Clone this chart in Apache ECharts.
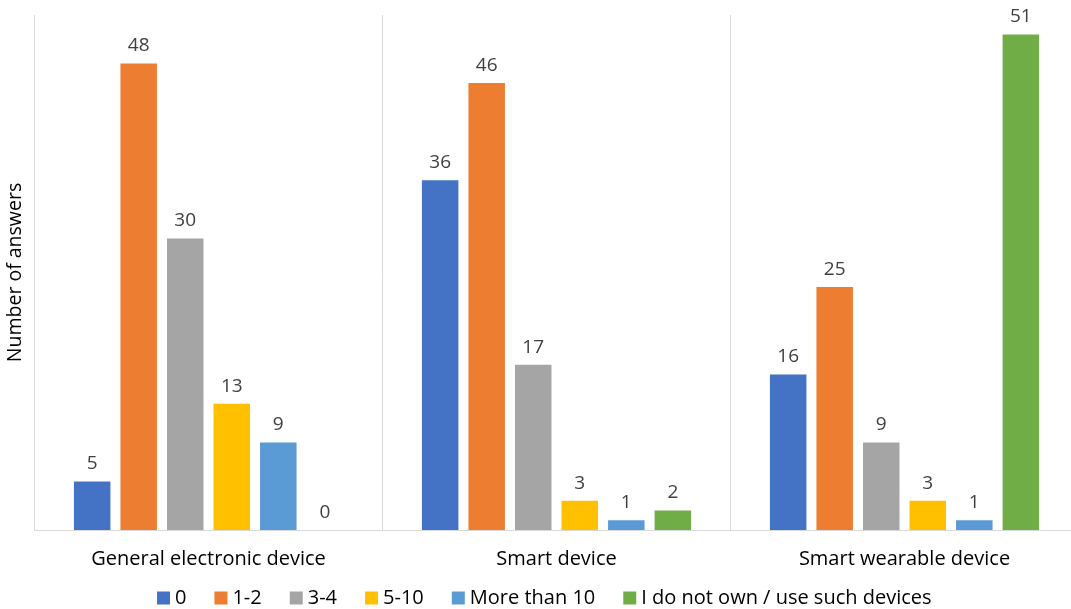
<!DOCTYPE html>
<html>
<head>
<meta charset="utf-8">
<script src="https://cdn.jsdelivr.net/npm/echarts@6/dist/echarts.min.js"></script>
<style>
  html, body { margin: 0; padding: 0; background: #fff; }
  #chart { width: 1071px; height: 609px; }
</style>
</head>
<body>
<div id="chart"></div>
<script>
// Device categories along the x axis
const categories = ['General electronic device', 'Smart device', 'Smart wearable device'];

// Number of devices owned / used (one series per answer option)
const seriesNames = ['0', '1-2', '3-4', '5-10', 'More than 10', 'I do not own / use such devices'];
const answers0 = [5, 36, 16];
const answers1to2 = [48, 46, 25];
const answers3to4 = [30, 17, 9];
const answers5to10 = [13, 3, 3];
const answersMoreThan10 = [9, 1, 1];
const answersNone = [0, 2, 51];

const seriesValues = [answers0, answers1to2, answers3to4, answers5to10, answersMoreThan10, answersNone];
const colors = ['#4472C4', '#ED7D31', '#A5A5A5', '#FFC000', '#5B9BD5', '#70AD47'];

const FONT = 'Open Sans';

const chart = echarts.init(document.getElementById('chart'), null, { renderer: 'canvas' });

chart.setOption({
  animation: false,
  color: colors,
  textStyle: { fontFamily: FONT },
  // the plot runs a little past the right edge of the canvas
  grid: {
    left: 34.5, width: 1044, top: 15, bottom: 79,
    containLabel: false,
    outerBoundsMode: 'none'
  },
  legend: {
    top: 583,
    left: 152,
    itemWidth: 13,
    itemHeight: 13,
    itemGap: 28,
    icon: 'rect',
    textStyle: { fontFamily: FONT, fontSize: 20, color: '#000' },
    data: seriesNames
  },
  xAxis: {
    type: 'category',
    data: categories,
    axisLine: { show: true, lineStyle: { color: '#D9D9D9', width: 1 } },
    axisTick: { show: false },
    splitLine: { show: true, lineStyle: { color: '#D9D9D9', width: 1 } },
    axisLabel: { fontFamily: FONT, fontSize: 20, color: '#000', margin: 19 }
  },
  yAxis: {
    type: 'value',
    min: 0,
    max: 53,
    name: 'Number of answers',
    nameLocation: 'middle',
    nameGap: 9,
    nameTextStyle: { fontFamily: FONT, fontSize: 19.5, color: '#000' },
    axisLine: { show: false },
    axisTick: { show: false },
    axisLabel: { show: false },
    splitLine: { show: false }
  },
  series: seriesNames.map((name, i) => ({
    name: name,
    type: 'bar',
    data: seriesValues[i],
    barWidth: 36.5,
    barGap: '27.5%',
    itemStyle: { color: colors[i] },
    label: {
      show: true,
      position: 'top',
      distance: 8,
      fontFamily: FONT,
      fontSize: 19,
      color: '#404040'
    }
  }))
});
</script>
</body>
</html>
